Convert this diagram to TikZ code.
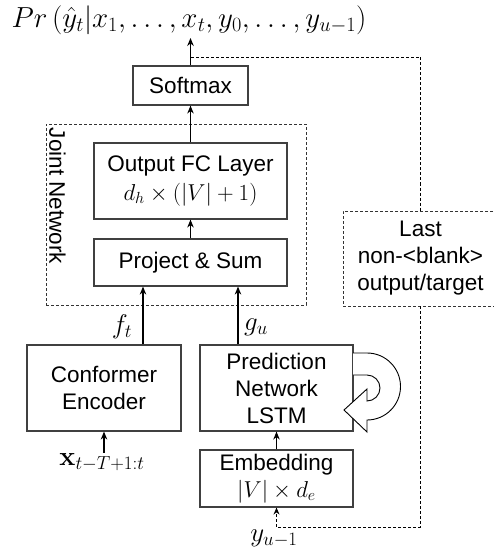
\RequirePackage{fix-cm}
\documentclass[tikz,border=0pt]{standalone}
\usepackage[no-math]{fontspec}
\setmainfont{Liberation Sans}
\usetikzlibrary{arrows.meta}
\begin{document}
\begin{tikzpicture}[x=1pt,y=-1pt,
  box/.style={draw=black!75,line width=1.2pt,inner sep=0pt,align=center,font=\fontsize{22.5}{27}\selectfont},
  dbox/.style={draw=black!80,line width=0.9pt,dash pattern=on 3pt off 2pt,inner sep=0pt},
  arr/.style={line width=1.2pt,-{Stealth[length=8pt,width=6.5pt]}},
  darr/.style={line width=0.9pt,dash pattern=on 3pt off 2pt},
  lbl/.style={inner sep=0pt,font=\fontsize{27}{30}\selectfont}]
\useasboundingbox (0,0) rectangle (494,556);
\node[lbl,font=\fontsize{29}{32}\selectfont] (title) at (189,20) {$Pr\,(\hat{y}_t|x_1,\ldots,x_t,y_0,\ldots,y_{u-1})$};
\node[box,minimum width=115pt,minimum height=39pt] (softmax) at (190.5,85.5) {Softmax};
\node[dbox,minimum width=260pt,minimum height=181pt] (joint) at (176,214.5) {};
\node[inner sep=0pt,font=\fontsize{22.5}{27}\selectfont,rotate=-90] (jlabel) at (57.5,196) {Joint Network};
\node[box,minimum width=193pt,minimum height=76pt] (fc) at (190.5,181) {Output FC Layer\\[2pt]{\fontsize{23}{26}\selectfont$d_h\times(|V|+1)$}};
\node[box,minimum width=193pt,minimum height=47pt] (proj) at (190.5,262.5) {Project \& Sum};
\node[box,minimum width=154pt,minimum height=86pt] (conf) at (104,388) {Conformer\\Encoder};
\node[box,minimum width=153pt,minimum height=86pt] (pred) at (276.5,388) {Prediction\\Network\\LSTM};
\node[box,minimum width=153pt,minimum height=57pt] (emb) at (276.5,478.5) {Embedding\\{\fontsize{23}{26}\selectfont$|V|\times d_e$}};
\node[dbox,minimum width=155pt,minimum height=95pt,align=center,font=\fontsize{22.5}{27}\selectfont] (last) at (420.5,258.5) {Last\\non-<blank>\\output/target};
\node[lbl] (ft) at (122,327) {$f_t$};
\node[lbl] (gu) at (256,327) {$g_u$};
\node[lbl] (xin) at (102,462) {$\mathbf{x}_{t-T+1:t}$};
\node[lbl] (yin) at (274,538) {$y_{u-1}$};
\coordinate (fx) at (143,0);
\coordinate (gx) at (238,0);
\coordinate (fb) at (191,57);
\draw[arr] (softmax.north) -- (softmax.north |- 0,38);
\draw[arr] (fc.north) -- (softmax.south);
\draw[arr] (proj.north) -- (fc.south);
\draw[arr] (conf.north -| fx) -- (proj.south -| fx);
\draw[arr] (pred.north -| gx) -- (proj.south -| gx);
\draw[arr] (emb.north) -- (pred.south);
\draw[arr] (xin.north -| 104,0) -- (conf.south -| 104,0);
\draw[darr] (fb) -| (last.north);
\draw[darr,-{Stealth[length=7pt,width=6pt]}] (last.south) -- (last.south |- 0,527) -| (emb.south);
% recurrent loop arrow
\draw[line width=0.9pt,fill=white,line join=miter] (353,353) -- (367,353) arc[start angle=-90,end angle=90,radius=33.5] -- (367,432) -- (344,410) -- (367,389) -- (367,401) arc[start angle=90,end angle=-90,radius=13] -- (353,375);
\end{tikzpicture}
\end{document}
